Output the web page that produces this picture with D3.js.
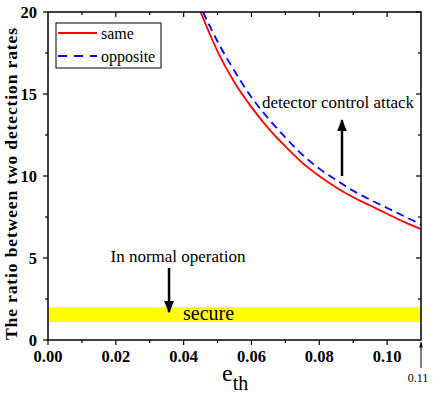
<!doctype html>
<html>
<head>
<meta charset="utf-8">
<script src="https://d3js.org/d3.v7.min.js"></script>
<style>
  body { margin: 0; background: #fff; }
</style>
</head>
<body>
<svg width="436" height="395" id="chart" font-family="Liberation Serif, Times New Roman, serif"></svg>
<script>
// threshold error e_th and the ratio between the two detection rates
var eSame = [0.045, 0.05, 0.055, 0.06, 0.065, 0.07, 0.075, 0.08, 0.085, 0.09, 0.095, 0.10, 0.105, 0.11];
var ratioSame = [20.0, 17.6, 15.7, 14.2, 12.9, 11.8, 10.8, 10.0, 9.3, 8.7, 8.2, 7.7, 7.2, 6.75];
var eOpposite = [0.0457, 0.05, 0.055, 0.06, 0.065, 0.07, 0.075, 0.08, 0.085, 0.09, 0.095, 0.10, 0.105, 0.11];
var ratioOpposite = [20.0, 18.2, 16.4, 14.8, 13.5, 12.35, 11.3, 10.45, 9.75, 9.1, 8.55, 8.05, 7.55, 7.05];
var secureBand = [1.1, 2.0];
var xTicks = [0, 0.02, 0.04, 0.06, 0.08, 0.10];
var xMinor = [0.01, 0.03, 0.05, 0.07, 0.09];
var yTicks = [0, 5, 10, 15, 20];
var yMinor = [2.5, 7.5, 12.5, 17.5];

var svg = d3.select("#chart");
var pl = 48, pr = 421, pt = 12, pb = 340;

var x = d3.scaleLinear().domain([0, 0.11]).range([pl, pr]);
var y = d3.scaleLinear().domain([0, 20]).range([pb, pt]);

var defs = svg.append("defs");
defs.append("clipPath").attr("id", "clip")
   .append("rect").attr("x", pl).attr("y", pt)
   .attr("width", pr - pl).attr("height", pb - pt);
defs.append("marker").attr("id", "head")
    .attr("viewBox", "0 0 10 10").attr("refX", 9).attr("refY", 5)
    .attr("markerWidth", 5).attr("markerHeight", 6)
    .attr("markerUnits", "strokeWidth")
    .attr("orient", "auto")
    .append("path").attr("d", "M0,1 L10,5 L0,9 Z").attr("fill", "#000");
defs.append("marker").attr("id", "headSmall")
    .attr("viewBox", "0 0 10 10").attr("refX", 9).attr("refY", 5)
    .attr("markerWidth", 7).attr("markerHeight", 6)
    .attr("orient", "auto")
    .append("path").attr("d", "M0,2 L10,5 L0,8 Z").attr("fill", "#000");

// secure band
svg.append("rect")
   .attr("x", x(0)).attr("width", x(0.11) - x(0))
   .attr("y", y(secureBand[1])).attr("height", y(secureBand[0]) - y(secureBand[1]))
   .attr("fill", "#ffff00");

svg.append("text").attr("x", 183).attr("y", 320)
   .attr("font-size", "20px").text("secure");

// curves
var line = d3.line().x(function(d) { return x(d[0]); }).y(function(d) { return y(d[1]); })
             .curve(d3.curveMonotoneX);

var plot = svg.append("g").attr("clip-path", "url(#clip)");
plot.append("path").datum(d3.zip(eSame, ratioSame))
    .attr("d", line).attr("fill", "none").attr("stroke", "#ff0000").attr("stroke-width", 1.8);
plot.append("path").datum(d3.zip(eOpposite, ratioOpposite))
    .attr("d", line).attr("fill", "none").attr("stroke", "#0000ff")
    .attr("stroke-width", 1.8).attr("stroke-dasharray", "8,5");

// axes
function tickLines(g, vals, size, orient) {
    g.selectAll(null).data(vals).enter().append("line")
     .attr("stroke", "#000").attr("stroke-width", 1.2)
     .each(function(d) {
        var s = d3.select(this);
        if (orient == "bottom") s.attr("x1", x(d)).attr("x2", x(d)).attr("y1", pb).attr("y2", pb + size);
        if (orient == "top") s.attr("x1", x(d)).attr("x2", x(d)).attr("y1", pt).attr("y2", pt + size);
        if (orient == "left") s.attr("y1", y(d)).attr("y2", y(d)).attr("x1", pl).attr("x2", pl - size);
        if (orient == "right") s.attr("y1", y(d)).attr("y2", y(d)).attr("x1", pr).attr("x2", pr - size);
     });
}
var ax = svg.append("g");
tickLines(ax, xTicks, 5, "bottom");
tickLines(ax, xMinor, 3, "bottom");
tickLines(ax, xTicks.slice(1), 5, "top");
tickLines(ax, xMinor, 3, "top");
tickLines(ax, yTicks, 5, "left");
tickLines(ax, yMinor, 3, "left");
tickLines(ax, yTicks.slice(1), 5, "right");
tickLines(ax, yMinor, 3, "right");

svg.append("rect").attr("x", pl).attr("y", pt)
   .attr("width", pr - pl).attr("height", pb - pt)
   .attr("fill", "none").attr("stroke", "#000").attr("stroke-width", 1.5);

ax.selectAll(null).data(xTicks).enter().append("text")
  .attr("x", function(d) { return x(d); }).attr("y", 362)
  .attr("text-anchor", "middle").attr("font-size", "16.5px").attr("font-weight", "bold")
  .text(d3.format(".2f"));

ax.selectAll(null).data(yTicks).enter().append("text")
  .attr("x", 37).attr("y", function(d) { return y(d) + 6; })
  .attr("text-anchor", "end").attr("font-size", "16.5px").attr("font-weight", "bold")
  .text(function(d) { return d; });

// 0.11 marker below the axis end
svg.append("line").attr("x1", x(0.11)).attr("x2", x(0.11)).attr("y1", 368).attr("y2", 342)
   .attr("stroke", "#000").attr("stroke-width", 1).attr("marker-end", "url(#headSmall)");
svg.append("text").attr("x", x(0.11) - 3).attr("y", 382)
   .attr("text-anchor", "middle").attr("font-size", "12px").text("0.11");

// axis titles
var xt = svg.append("text").attr("x", 222).attr("y", 381).attr("font-size", "24px");
xt.append("tspan").text("e");
xt.append("tspan").attr("font-size", "20px").attr("dy", 9).text("th");

svg.append("text")
   .attr("transform", "translate(17,184) rotate(-90)")
   .attr("text-anchor", "middle").attr("font-size", "17.5px").attr("font-weight", "bold")
   .attr("textLength", 312).attr("lengthAdjust", "spacing")
   .text("The ratio between two detection rates");

// annotations
svg.append("text").attr("x", 338).attr("y", 108)
   .attr("text-anchor", "middle").attr("font-size", "17px").text("detector control attack");
svg.append("line").attr("x1", x(0.0867)).attr("x2", x(0.0867))
   .attr("y1", y(10.0)).attr("y2", y(13.4))
   .attr("stroke", "#000").attr("stroke-width", 2.5).attr("marker-end", "url(#head)");

svg.append("text").attr("x", 178).attr("y", 262)
   .attr("text-anchor", "middle").attr("font-size", "17px").text("In normal operation");
svg.append("line").attr("x1", x(0.0357)).attr("x2", x(0.0357))
   .attr("y1", y(4.4)).attr("y2", y(1.7))
   .attr("stroke", "#000").attr("stroke-width", 2.5).attr("marker-end", "url(#head)");

// legend
var lg = svg.append("g");
lg.append("rect").attr("x", 56).attr("y", 23).attr("width", 105).attr("height", 45)
  .attr("fill", "#fff").attr("stroke", "#000").attr("stroke-width", 1);
lg.append("line").attr("x1", 58).attr("x2", 97).attr("y1", 33).attr("y2", 33)
  .attr("stroke", "#ff0000").attr("stroke-width", 1.8);
lg.append("line").attr("x1", 58).attr("x2", 97).attr("y1", 56).attr("y2", 56)
  .attr("stroke", "#0000ff").attr("stroke-width", 1.8).attr("stroke-dasharray", "9,7");
lg.append("text").attr("x", 101).attr("y", 39).attr("font-size", "16px").text("same");
lg.append("text").attr("x", 101).attr("y", 62).attr("font-size", "16px").text("opposite");
</script>
</body>
</html>
